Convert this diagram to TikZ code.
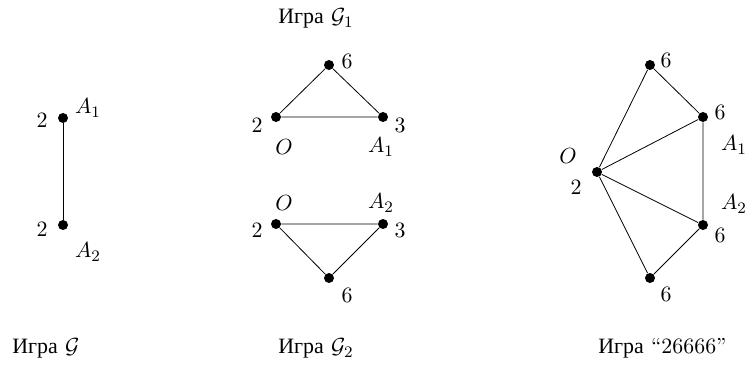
\documentclass[tikz,border=0pt]{standalone}
\usepackage{fontspec}
\newfontfamily\cyrfont{Liberation Serif}
\newcommand{\igra}{{\cyrfont Игра}}
\tikzset{vert/.style={circle,fill,inner sep=0pt,minimum size=5pt},
  title/.style={anchor=base west,inner sep=0pt}}
\begin{document}
\begin{tikzpicture}[x=0.5pt,y=-0.5pt,font=\fontsize{10.95}{13.6}\selectfont]
\useasboundingbox (0,0) rectangle (746,367);

% game G
\node[vert] (a1) at (63,118) {};
\node[vert] (a2) at (63,225) {};
\draw (a1) -- (a2);
\node (wa1) at (42,120) {2};
\node (wa2) at (42,229) {2};
\node (na1) at (88,108) {$A_1$};
\node (na2) at (88,252) {$A_2$};
\node[title] (tg) at (12,354) {\igra\ $\mathcal{G}$};

% game G1
\node[vert] (b0) at (276,117) {};
\node[vert] (b1) at (383,117) {};
\node[vert] (b2) at (329,65) {};
\draw (b0) -- (b1) -- (b2) -- (b0);
\node (wb0) at (257,125) {2};
\node (wb1) at (400,125) {3};
\node (wb2) at (347,61) {6};
\node (nb0) at (284,147) {$O$};
\node (nb1) at (381,147) {$A_1$};
\node[title] (tg1) at (278,24) {\igra\ $\mathcal{G}_1$};

% game G2
\node[vert] (c0) at (276,224) {};
\node[vert] (c1) at (383,224) {};
\node[vert] (c2) at (329,278) {};
\draw (c0) -- (c1) -- (c2) -- (c0);
\node (wc0) at (257,230) {2};
\node (wc1) at (400,230) {3};
\node (wc2) at (347,295) {6};
\node (nc0) at (284,203) {$O$};
\node (nc1) at (381,203) {$A_2$};
\node[title] (tg2) at (278,354) {\igra\ $\mathcal{G}_2$};

% game 26666
\node[vert] (d0) at (597,172) {};
\node[vert] (d1) at (650,65) {};
\node[vert] (d2) at (703,117) {};
\node[vert] (d3) at (703,225) {};
\node[vert] (d4) at (650,278) {};
\draw (d1) -- (d2) -- (d3) -- (d4);
\foreach \v in {d1,d2,d3,d4}
  \draw (d0) -- (\v);
\node (wd0) at (576,187) {2};
\node (wd1) at (666,60) {6};
\node (wd2) at (720,112) {6};
\node (wd3) at (720,235) {6};
\node (wd4) at (666,294) {6};
\node (nd0) at (568,156) {$O$};
\node (nd2) at (734,145) {$A_1$};
\node (nd3) at (734,204) {$A_2$};
\node[title] (tg3) at (598,354) {\igra\ ``26666''};
\end{tikzpicture}
\end{document}
